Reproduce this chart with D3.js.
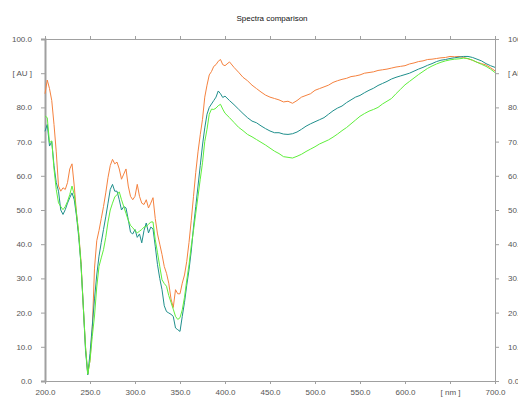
<!DOCTYPE html>
<html>
<head>
<meta charset="utf-8">
<script src="https://cdn.jsdelivr.net/npm/d3@7/dist/d3.min.js"></script>
<style>
  body { margin: 0; background: #fff; }
  svg { display: block; font-family: "Liberation Sans", Arial, sans-serif; }
  .axis text { font-size: 8px; fill: #555; }
  .axis path, .axis line { stroke: #a0a0a0; }
  .title { font-size: 8px; fill: #111; }
</style>
</head>
<body>
<svg id="chart" width="518" height="401"></svg>
<script>
// wavelength grid [nm]: 2.5 nm steps up to 400, then 5 nm
const wavelengths = d3.range(200, 400, 2.5).concat(d3.range(400, 700.1, 5));

const seriesOrange = [
  84, 88, 85.5, 82, 75, 67, 57, 55.5, 56.5, 56, 58, 62, 63.5, 57, 49, 43, 35, 22, 10, 2,
  6, 15, 33, 41, 44, 47.5, 51, 55, 59.5, 63, 64.8, 63.5, 64, 62, 59, 60.5, 62, 57, 54, 53,
  54, 57.5, 54, 52, 51.6, 53, 50.6, 52, 53.6, 47.5, 43, 40, 37, 33.5, 31.5, 28.6, 24, 21.5, 26.7, 25.5,
  25.5, 28.6, 31, 35, 40.5, 47, 54, 61, 67, 72, 76.5, 83, 86.5, 89.5, 90.5, 92, 92.5, 93.5, 94, 92.5,
  92.2, 93.3, 91.7, 90.3, 88.8, 87.8, 86.5, 85.5, 84.5, 83.6, 83, 82.6, 82.2, 81.6, 81.8, 81.2, 82, 83, 83.5, 84,
  85, 85.5, 86, 86.5, 87.3, 87.8, 88.2, 88.5, 89, 89.2, 89.5, 90, 90.2, 90.4, 90.8, 91, 91.2, 91.5, 91.8, 92,
  92.2, 92.7, 93, 93.4, 93.6, 94, 94.1, 94.3, 94.5, 94.6, 94.9, 94.8, 94.9, 94.6, 94.2, 93.8, 93.2, 92.8, 92.4, 91.6,
  90.7
];

const seriesTeal = [
  73, 75, 68.7, 70, 63, 58, 55.5, 50, 48.7, 50.1, 52, 53.6, 55, 53, 48.2, 42, 34, 22, 9, 1.8,
  8, 16, 24, 31, 36.5, 40.5, 44.3, 48, 52, 56, 57.5, 55.5, 55.5, 53, 50, 51, 50.6, 47.2, 43.5, 43,
  44.3, 42, 43, 40.4, 44, 46.2, 43.3, 45, 44.5, 39.4, 34, 30, 26.7, 22, 20.3, 19.9, 19.5, 18.9, 15.5, 15,
  14.5, 18.9, 23, 28, 32.5, 38, 45, 51, 57, 63, 69, 74, 78, 80, 81, 82, 83, 84.8, 84, 82.9,
  83.3, 82, 80.8, 79.5, 78.2, 77, 76, 75.5, 74.6, 73.8, 73.1, 72.6, 72.6, 72.2, 72.1, 72.3, 72.8, 73.6, 74.5, 75.2,
  75.8, 76.4, 77, 78, 79, 79.8, 80.4, 81.4, 82.2, 83, 83.5, 84.3, 85, 85.6, 86.4, 87, 87.6, 88.3, 88.8, 89.2,
  89.6, 90, 90.6, 91.2, 91.7, 92.3, 92.8, 93.4, 93.8, 94, 94.3, 94.5, 94.7, 94.9, 94.9, 94.6, 94.1, 93.6, 92.8, 92.2,
  91.7
];

const seriesGreen = [
  77.5, 77, 69.7, 70.2, 62, 56, 52.1, 51, 50.1, 51, 52.5, 54.5, 57, 54.5, 49, 43, 34, 22, 10, 2,
  6, 13, 19, 27.5, 33.5, 36, 38.4, 42, 46.5, 50, 52, 53.8, 54.5, 55.3, 53, 51, 49, 47, 45.5, 44.8,
  44, 43.3, 43.8, 44.3, 45, 45.2, 45.8, 46.5, 46.5, 41.3, 37.5, 33.5, 29.6, 28.5, 27.7, 25, 23, 21, 18.9, 18,
  18.5, 20.8, 24.5, 29.5, 34, 39.5, 44, 49, 54, 59, 63.8, 70, 73.6, 78, 79.5, 79.4, 79.8, 80.5, 80.9, 79.5,
  78.3, 77, 75.6, 74.2, 73.2, 72.1, 71.4, 70.6, 69.8, 69, 68.1, 67.2, 66.5, 65.6, 65.4, 65.2, 65.7, 66.3, 67.1, 67.8,
  68.5, 69.3, 69.9, 70.5, 71.3, 72.2, 73.2, 74.1, 75.2, 76.3, 77.4, 78.2, 78.9, 79.4, 80, 81, 81.8, 82.6, 84, 85.3,
  86.6, 87.6, 88.6, 89.6, 90.5, 91.4, 92.1, 92.7, 93.2, 93.6, 93.9, 94.1, 94.2, 94.4, 94.3, 93.8, 93.2, 92.6, 92, 91.2,
  90.2
];

const xTicks = [200, 250, 300, 350, 400, 450, 500, 550, 600, 650, 700];
const yTicks = [0, 10, 20, 30, 40, 50, 60, 70, 80, 90, 100];

const series = [
  { name: 'orange', values: seriesOrange, color: '#f5823f' },
  { name: 'teal', values: seriesTeal, color: '#1f8f8c' },
  { name: 'green', values: seriesGreen, color: '#5fef3c' }
];

const svg = d3.select('#chart');
const margin = { top: 39, right: 23, bottom: 20, left: 45 };
const width = 518 - margin.left - margin.right;
const height = 401 - margin.top - margin.bottom;

const x = d3.scaleLinear().domain([200, 700]).range([0, width]);
const y = d3.scaleLinear().domain([0, 100]).range([height, 0]);

const g = svg.append('g')
  .attr('transform', `translate(${margin.left},${margin.top})`);

svg.append('text')
  .attr('class', 'title')
  .attr('x', 272)
  .attr('y', 21)
  .attr('text-anchor', 'middle')
  .text('Spectra comparison');

// axes
const fmtY = d => d === 90 ? '[ AU ]' : d.toFixed(1);
const fmtX = d => d === 650 ? '[ nm ]' : d.toFixed(1);

g.append('g').attr('class', 'axis')
  .attr('transform', `translate(0,${height})`)
  .call(d3.axisBottom(x).tickValues(xTicks).tickFormat(fmtX).tickSize(3).tickPadding(5));

g.append('g').attr('class', 'axis')
  .call(d3.axisTop(x).tickValues(xTicks).tickFormat('').tickSize(3));

g.append('g').attr('class', 'axis')
  .attr('transform', `translate(${width},0)`)
  .call(d3.axisRight(y).tickValues(yTicks).tickFormat(fmtY).tickSize(4).tickPadding(9));

const left = g.append('g').attr('class', 'axis')
  .call(d3.axisLeft(y).tickValues(yTicks).tickFormat(fmtY).tickSize(4).tickPadding(9));
left.select('.domain').attr('stroke-width', 2);

svg.selectAll('.axis .domain').attr('fill', 'none');

// spectra
const line = d3.line()
  .x((d, i) => x(wavelengths[i]))
  .y(d => y(d));

g.selectAll('.spectrum')
  .data(series)
  .enter().append('path')
  .attr('class', 'spectrum')
  .attr('fill', 'none')
  .attr('stroke', d => d.color)
  .attr('stroke-width', 1)
  .attr('stroke-linejoin', 'round')
  .attr('d', d => line(d.values));
</script>
</body>
</html>
